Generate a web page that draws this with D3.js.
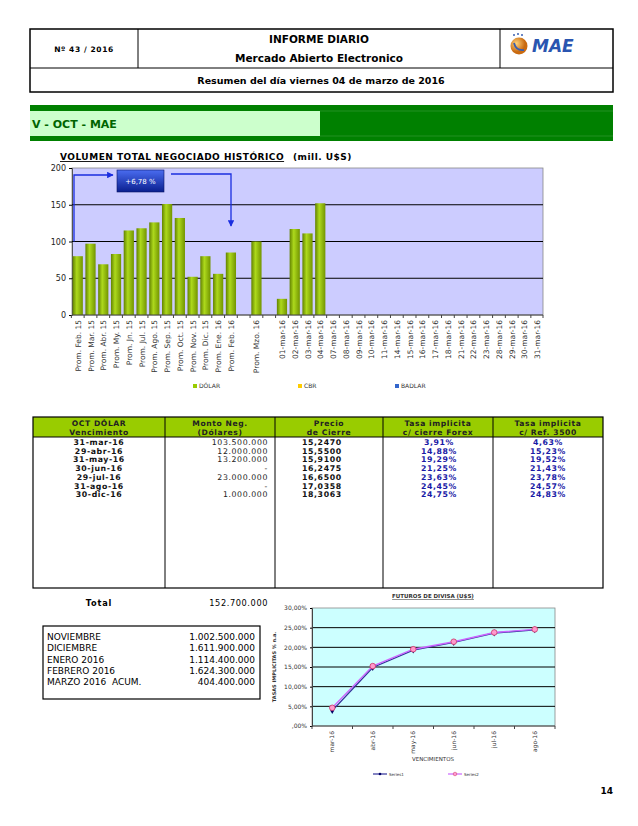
<!DOCTYPE html>
<html>
<head>
<meta charset="utf-8">
<script src="https://cdn.jsdelivr.net/npm/d3@7"></script>
<style>
  body { margin: 0; background: #fff; }
  text { font-family: Verdana, "DejaVu Sans", sans-serif; }
</style>
</head>
<body>
<div id="page"></div>
<script>
// volumen historico (mill. U$S)
var volLabels = ['Prom. Feb. 15', 'Prom. Mar. 15', 'Prom. Abr. 15', 'Prom. My. 15', 'Prom. Jn. 15',
  'Prom. Jul. 15', 'Prom. Ago. 15', 'Prom. Sep. 15', 'Prom. Oct. 15', 'Prom. Nov. 15', 'Prom. Dic. 15',
  'Prom. Ene. 16', 'Prom. Feb. 16', '', 'Prom. Mzo. 16', '',
  '01-mar-16', '02-mar-16', '03-mar-16', '04-mar-16', '07-mar-16', '08-mar-16', '09-mar-16',
  '10-mar-16', '11-mar-16', '14-mar-16', '15-mar-16', '16-mar-16', '17-mar-16', '18-mar-16',
  '21-mar-16', '22-mar-16', '23-mar-16', '28-mar-16', '29-mar-16', '30-mar-16', '31-mar-16'];
var volDolar = [80, 97, 69, 83, 115, 118, 126, 151, 132, 52, 80, 56, 85, null, 100, null,
  22, 117, 111, 152, null, null, null, null, null, null, null, null, null, null,
  null, null, null, null, null, null, null];
var volTicks = [0, 50, 100, 150, 200];
var legendNames = ['DÓLAR', 'CBR', 'BADLAR'];
var legendColors = ['#99cc00', '#ffcc00', '#3366cc'];

// tabla OCT dolar
var tableHeaders = [['OCT DÓLAR', 'Vencimiento'], ['Monto Neg.', '(Dólares)'], ['Precio', 'de Cierre'],
  ['Tasa implicita', 'c/ cierre Forex'], ['Tasa implicita', 'c/ Ref. 3500']];
var vencimientos = ['31-mar-16', '29-abr-16', '31-may-16', '30-jun-16', '29-jul-16', '31-ago-16', '30-dic-16'];
var montos = ['103.500.000', '12.000.000', '13.200.000', '-', '23.000.000', '-', '1.000.000'];
var precios = ['15,2470', '15,5500', '15,9100', '16,2475', '16,6500', '17,0358', '18,3063'];
var tasaForex = ['3,91%', '14,88%', '19,29%', '21,25%', '23,63%', '24,45%', '24,75%'];
var tasaRef = ['4,63%', '15,23%', '19,52%', '21,43%', '23,78%', '24,57%', '24,83%'];
var totalMonto = '152.700.000';

var meses = ['NOVIEMBRE', 'DICIEMBRE', 'ENERO 2016', 'FEBRERO 2016', 'MARZO 2016  ACUM.'];
var mesesMonto = ['1.002.500.000', '1.611.900.000', '1.114.400.000', '1.624.300.000', '404.400.000'];

// futuros de divisa
var futMeses = ['mar-16', 'abr-16', 'may-16', 'jun-16', 'jul-16', 'ago-16'];
var serie1 = [3.91, 14.88, 19.29, 21.25, 23.63, 24.45];
var serie2 = [4.63, 15.23, 19.52, 21.43, 23.78, 24.57];
var futTicks = [0, 5, 10, 15, 20, 25, 30];

var svg = d3.select('#page').append('svg')
  .attr('width', 638)
  .attr('height', 826);

var defs = svg.append('defs');
var g1 = defs.append('linearGradient').attr('id', 'barGrad').attr('x1', 0).attr('x2', 1).attr('y1', 0).attr('y2', 0);
g1.append('stop').attr('offset', '0%').attr('stop-color', '#628200');
g1.append('stop').attr('offset', '40%').attr('stop-color', '#add91c');
g1.append('stop').attr('offset', '100%').attr('stop-color', '#729400');
var g2 = defs.append('linearGradient').attr('id', 'boxGrad').attr('x1', 0).attr('x2', 0).attr('y1', 0).attr('y2', 1);
g2.append('stop').attr('offset', '0%').attr('stop-color', '#4a6cf0');
g2.append('stop').attr('offset', '100%').attr('stop-color', '#0a1f8f');
var g3 = defs.append('radialGradient').attr('id', 'logoGrad').attr('cx', '35%').attr('cy', '35%');
g3.append('stop').attr('offset', '0%').attr('stop-color', '#ffd27a');
g3.append('stop').attr('offset', '100%').attr('stop-color', '#c96a10');
defs.append('marker').attr('id', 'arrow').attr('viewBox', '0 0 10 10')
  .attr('refX', 9).attr('refY', 5).attr('markerWidth', 5).attr('markerHeight', 5).attr('orient', 'auto')
  .append('path').attr('d', 'M0,0L10,5L0,10z').attr('fill', '#1a2ee0');

// ---- header ----
var head = svg.append('g');
head.append('rect').attr('x', 30).attr('y', 29).attr('width', 583).attr('height', 63)
  .attr('fill', 'none').attr('stroke', '#000').attr('stroke-width', 1.5);
head.append('line').attr('x1', 30).attr('x2', 613).attr('y1', 68).attr('y2', 68).attr('stroke', '#000');
head.append('line').attr('x1', 138).attr('x2', 138).attr('y1', 29).attr('y2', 68).attr('stroke', '#000');
head.append('line').attr('x1', 500).attr('x2', 500).attr('y1', 29).attr('y2', 68).attr('stroke', '#000');
head.append('text').attr('x', 84).attr('y', 52).attr('text-anchor', 'middle')
  .attr('font-size', 7.5).attr('font-weight', 'bold').attr('letter-spacing', 0.6).text('Nº 43 / 2016');
head.append('text').attr('x', 319).attr('y', 43).attr('text-anchor', 'middle')
  .attr('font-size', 10.5).attr('font-weight', 'bold').text('INFORME DIARIO');
head.append('text').attr('x', 319).attr('y', 62).attr('text-anchor', 'middle')
  .attr('font-size', 10.5).attr('font-weight', 'bold').text('Mercado Abierto Electronico');
head.append('text').attr('x', 321).attr('y', 84).attr('text-anchor', 'middle')
  .attr('font-size', 9.5).attr('font-weight', 'bold').text('Resumen del día viernes 04 de marzo de 2016');
// logo
head.append('circle').attr('cx', 519).attr('cy', 46).attr('r', 8.5).attr('fill', 'url(#logoGrad)');
head.append('path').attr('d', 'M514,43 Q516,51 524,50').attr('fill', 'none').attr('stroke', '#3a5fb0').attr('stroke-width', 1.8);
[[514, 35], [518, 34], [522, 35]].forEach(function(p) {
  head.append('circle').attr('cx', p[0]).attr('cy', p[1]).attr('r', 1).attr('fill', '#3a5fb0');
});
head.append('text').attr('x', 532).attr('y', 52).attr('font-size', 17).attr('font-weight', 'bold')
  .attr('font-style', 'italic').attr('fill', '#2a55b0').text('MAE');

// ---- section band ----
svg.append('rect').attr('x', 30).attr('y', 105).attr('width', 583).attr('height', 36).attr('fill', '#008000');
svg.append('rect').attr('x', 30).attr('y', 111).attr('width', 290).attr('height', 25).attr('fill', '#ccffcc');
svg.append('line').attr('x1', 320).attr('x2', 613).attr('y1', 111).attr('y2', 111).attr('stroke', '#3a9a3a').attr('stroke-width', 0.6);
svg.append('line').attr('x1', 320).attr('x2', 613).attr('y1', 136).attr('y2', 136).attr('stroke', '#3a9a3a').attr('stroke-width', 0.6);
svg.append('text').attr('x', 32).attr('y', 128).attr('font-size', 11).attr('font-weight', 'bold')
  .attr('fill', '#006400').text('V - OCT - MAE');

// ---- bar chart ----
var x = d3.scaleBand()
  .domain(d3.range(volLabels.length))
  .range([72, 543])
  .paddingInner(0.2)
  .paddingOuter(0.05);

var y = d3.scaleLinear()
  .domain([0, 200])
  .range([315, 168]);

svg.append('rect').attr('x', 72).attr('y', y(200)).attr('width', 471).attr('height', y(0) - y(200))
  .attr('fill', '#ccccff').attr('stroke', '#888').attr('stroke-width', 0.8);

svg.append('g')
  .attr('transform', 'translate(72,0)')
  .call(d3.axisLeft(y).tickValues(volTicks).tickSize(3))
  .call(function(g) {
    g.select('.domain').attr('stroke', '#555');
    g.selectAll('text').attr('font-size', 8).attr('fill', '#222');
  });

svg.append('g').selectAll('line')
  .data(volTicks.slice(1, -1))
  .join('line')
  .attr('x1', 72).attr('x2', 543)
  .attr('y1', function(d) { return y(d); })
  .attr('y2', function(d) { return y(d); })
  .attr('stroke', '#000').attr('stroke-width', 1);

svg.append('g').selectAll('rect')
  .data(volDolar.map(function(v, i) { return {i: i, v: v}; }).filter(function(d) { return d.v != null; }))
  .join('rect')
  .attr('x', function(d) { return x(d.i); })
  .attr('y', function(d) { return y(d.v); })
  .attr('width', x.bandwidth())
  .attr('height', function(d) { return y(0) - y(d.v); })
  .attr('fill', 'url(#barGrad)');

// x axis line + ticks between bands
svg.append('line').attr('x1', 72).attr('x2', 543).attr('y1', y(0)).attr('y2', y(0)).attr('stroke', '#444');
svg.append('g').selectAll('line')
  .data(d3.range(volLabels.length + 1))
  .join('line')
  .attr('x1', function(i) { return i < volLabels.length ? x(i) - x.step() * 0.1 : 543; })
  .attr('x2', function(i) { return i < volLabels.length ? x(i) - x.step() * 0.1 : 543; })
  .attr('y1', y(0)).attr('y2', y(0) + 3)
  .attr('stroke', '#444');

svg.append('g').selectAll('text')
  .data(volLabels)
  .join('text')
  .attr('transform', function(d, i) {
    return 'translate(' + (x(i) + x.bandwidth() / 2 + 3) + ',' + (y(0) + 5) + ') rotate(-90)';
  })
  .attr('text-anchor', 'end')
  .attr('font-size', 7.5)
  .attr('fill', '#333')
  .text(function(d) { return d; });

svg.append('text').attr('x', 60).attr('y', 160).attr('font-size', 9).attr('font-weight', 'bold')
  .attr('letter-spacing', 0.5).attr('text-decoration', 'underline').text('VOLUMEN TOTAL NEGOCIADO HISTÓRICO');
svg.append('text').attr('x', 293).attr('y', 160).attr('font-size', 9).attr('font-weight', 'bold')
  .attr('letter-spacing', 0.5).text('(mill. U$S)');

// annotation +6,78 %
var ann = svg.append('g');
ann.append('path').attr('d', 'M74,' + y(100) + 'V175H113').attr('fill', 'none')
  .attr('stroke', '#1a2ee0').attr('stroke-width', 1.3).attr('marker-end', 'url(#arrow)');
ann.append('path').attr('d', 'M171,174H231V226').attr('fill', 'none')
  .attr('stroke', '#1a2ee0').attr('stroke-width', 1.3).attr('marker-end', 'url(#arrow)');
ann.append('rect').attr('x', 117).attr('y', 170).attr('width', 47).attr('height', 22)
  .attr('fill', 'url(#boxGrad)').attr('stroke', '#0a1466').attr('stroke-width', 0.6);
ann.append('text').attr('x', 140.5).attr('y', 184).attr('text-anchor', 'middle')
  .attr('font-size', 7).attr('fill', '#fff').text('+6,78 %');

// legend
var leg = svg.append('g').selectAll('g')
  .data(legendNames)
  .join('g')
  .attr('transform', function(d, i) { return 'translate(' + [193, 298, 395][i] + ',388)'; });
leg.append('rect').attr('x', 0).attr('y', -4).attr('width', 4).attr('height', 4)
  .attr('fill', function(d, i) { return legendColors[i]; });
leg.append('text').attr('x', 6).attr('y', 0).attr('font-size', 6).attr('fill', '#333')
  .text(function(d) { return d; });

// ---- table ----
var colX = [33, 165, 275, 383, 493, 603];
var tb = svg.append('g');
tb.append('rect').attr('x', 33).attr('y', 417).attr('width', 570).attr('height', 20).attr('fill', '#99cc00');
tb.append('rect').attr('x', 33).attr('y', 417).attr('width', 570).attr('height', 171)
  .attr('fill', 'none').attr('stroke', '#000').attr('stroke-width', 1.2);
tb.append('line').attr('x1', 33).attr('x2', 603).attr('y1', 437).attr('y2', 437).attr('stroke', '#000');
tb.selectAll('line.col')
  .data(colX.slice(1, -1))
  .join('line')
  .attr('class', 'col')
  .attr('x1', function(d) { return d; }).attr('x2', function(d) { return d; })
  .attr('y1', 417).attr('y2', 588).attr('stroke', '#000');
tableHeaders.forEach(function(h, c) {
  var cx = (colX[c] + colX[c + 1]) / 2;
  h.forEach(function(t, k) {
    tb.append('text').attr('x', cx).attr('y', 425.5 + k * 9).attr('text-anchor', 'middle')
      .attr('font-size', 7.6).attr('font-weight', 'bold').attr('letter-spacing', 0.6)
      .attr('fill', '#222').text(t);
  });
});

function column(vals, xPos, anchor, bold, color) {
  tb.append('g').selectAll('text')
    .data(vals)
    .join('text')
    .attr('x', xPos)
    .attr('y', function(d, i) { return 445 + i * 8.7; })
    .attr('text-anchor', anchor)
    .attr('font-size', 7.8)
    .attr('font-weight', bold ? 'bold' : 'normal')
    .attr('letter-spacing', 0.6)
    .attr('fill', color)
    .text(function(d) { return d; });
}
column(vencimientos, 99, 'middle', true, '#111');
column(montos, 268, 'end', false, '#222');
column(precios, 302, 'start', true, '#111');
column(tasaForex, 439, 'middle', true, '#1a1aa6');
column(tasaRef, 548, 'middle', true, '#1a1aa6');

svg.append('text').attr('x', 99).attr('y', 606).attr('text-anchor', 'middle')
  .attr('font-size', 8.2).attr('font-weight', 'bold').attr('letter-spacing', 0.8).text('Total');
svg.append('text').attr('x', 268).attr('y', 606).attr('text-anchor', 'end')
  .attr('font-size', 8.2).attr('letter-spacing', 0.6).text(totalMonto);

// monthly box
svg.append('rect').attr('x', 43).attr('y', 626).attr('width', 217).attr('height', 73)
  .attr('fill', 'none').attr('stroke', '#000').attr('stroke-width', 1.2);
svg.append('g').selectAll('text')
  .data(meses)
  .join('text')
  .attr('x', 47)
  .attr('y', function(d, i) { return 640 + i * 11.3; })
  .attr('font-size', 9)
  .style('white-space', 'pre')
  .text(function(d) { return d; });
svg.append('g').selectAll('text')
  .data(mesesMonto)
  .join('text')
  .attr('x', 255)
  .attr('y', function(d, i) { return 640 + i * 11.3; })
  .attr('text-anchor', 'end')
  .attr('font-size', 9)
  .text(function(d) { return d; });

// ---- futuros chart ----
var fx = d3.scalePoint()
  .domain(futMeses)
  .range([312, 555])
  .padding(0.5);

var fy = d3.scaleLinear()
  .domain([0, 30])
  .range([726, 608]);

svg.append('rect').attr('x', 312).attr('y', 608).attr('width', 243).attr('height', 118)
  .attr('fill', '#ccffff').attr('stroke', '#888').attr('stroke-width', 0.8);
svg.append('g').selectAll('line')
  .data(futTicks.slice(1, -1))
  .join('line')
  .attr('x1', 312).attr('x2', 555)
  .attr('y1', function(d) { return fy(d); })
  .attr('y2', function(d) { return fy(d); })
  .attr('stroke', '#000');

svg.append('g')
  .attr('transform', 'translate(312,0)')
  .call(d3.axisLeft(fy).tickValues(futTicks).tickSize(2)
    .tickFormat(function(d) { return d === 0 ? ',00%' : d + ',00%'; }))
  .call(function(g) {
    g.select('.domain').attr('stroke', '#444');
    g.selectAll('text').attr('font-size', 6).attr('fill', '#333');
  });

var step = fx.step();
svg.append('line').attr('x1', 312).attr('x2', 555).attr('y1', 726).attr('y2', 726).attr('stroke', '#444');
svg.append('g').selectAll('line')
  .data(d3.range(futMeses.length + 1))
  .join('line')
  .attr('x1', function(i) { return 312 + i * step; })
  .attr('x2', function(i) { return 312 + i * step; })
  .attr('y1', 726).attr('y2', 729).attr('stroke', '#444');
svg.append('g').selectAll('text')
  .data(futMeses)
  .join('text')
  .attr('transform', function(d) { return 'translate(' + (fx(d) + 2) + ',731) rotate(-90)'; })
  .attr('text-anchor', 'end')
  .attr('font-size', 6)
  .attr('fill', '#333')
  .text(function(d) { return d; });

var fline = d3.line()
  .x(function(d, i) { return fx(futMeses[i]); })
  .y(function(d) { return fy(d); });

svg.append('path').attr('d', fline(serie1)).attr('fill', 'none').attr('stroke', '#333399').attr('stroke-width', 1.4);
svg.append('path').attr('d', fline(serie2)).attr('fill', 'none').attr('stroke', '#cc66ff').attr('stroke-width', 1.4);
svg.append('g').selectAll('path')
  .data(serie1)
  .join('path')
  .attr('d', d3.symbol().type(d3.symbolDiamond).size(14))
  .attr('transform', function(d, i) { return 'translate(' + fx(futMeses[i]) + ',' + fy(d) + ')'; })
  .attr('fill', '#000066');
svg.append('g').selectAll('circle')
  .data(serie2)
  .join('circle')
  .attr('cx', function(d, i) { return fx(futMeses[i]); })
  .attr('cy', function(d) { return fy(d); })
  .attr('r', 2.8)
  .attr('fill', '#ff99cc')
  .attr('stroke', '#cc3366')
  .attr('stroke-width', 0.8);

svg.append('text').attr('x', 433).attr('y', 598).attr('text-anchor', 'middle')
  .attr('font-size', 5.5).attr('font-weight', 'bold').attr('text-decoration', 'underline')
  .attr('fill', '#333').text('FUTUROS  DE  DIVISA (U$S)');
svg.append('text').attr('transform', 'translate(276,667) rotate(-90)').attr('text-anchor', 'middle')
  .attr('font-size', 5).attr('font-weight', 'bold').attr('fill', '#333').text('TASAS IMPLICITAS % n.a.');
svg.append('text').attr('x', 433).attr('y', 761).attr('text-anchor', 'middle')
  .attr('font-size', 5.5).attr('fill', '#333').text('VENCIMIENTOS');

// futuros legend
var fl = svg.append('g').selectAll('g')
  .data(['Series1', 'Series2'])
  .join('g')
  .attr('transform', function(d, i) { return 'translate(' + [373, 448][i] + ',774)'; });
fl.append('line').attr('x1', 0).attr('x2', 14).attr('y1', 0).attr('y2', 0)
  .attr('stroke', function(d, i) { return i ? '#cc66ff' : '#333399'; }).attr('stroke-width', 1.2);
fl.append('circle').attr('cx', 7).attr('cy', 0).attr('r', function(d, i) { return i ? 1.8 : 1.3; })
  .attr('fill', function(d, i) { return i ? '#ff99cc' : '#000066'; })
  .attr('stroke', function(d, i) { return i ? '#cc3366' : 'none'; }).attr('stroke-width', 0.5);
fl.append('text').attr('x', 16).attr('y', 1.5).attr('font-size', 4).attr('fill', '#333')
  .text(function(d) { return d; });

svg.append('text').attr('x', 613).attr('y', 794).attr('text-anchor', 'end')
  .attr('font-size', 9).attr('font-weight', 'bold').text('14');
</script>
</body>
</html>
